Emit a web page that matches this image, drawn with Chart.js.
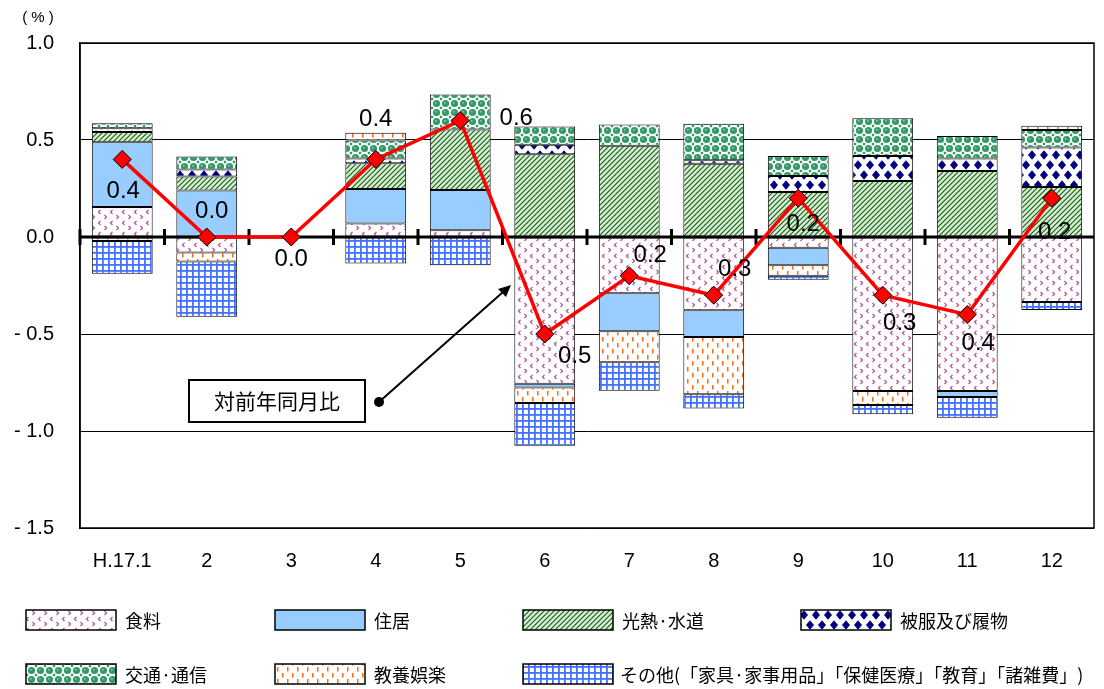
<!DOCTYPE html>
<html lang="ja">
<head>
<meta charset="utf-8">
<title>消費者物価指数 対前年同月比 寄与度</title>
<script src="https://cdn.jsdelivr.net/npm/chart.js@4.4.1/dist/chart.umd.min.js"></script>
<style>
  html, body { margin: 0; padding: 0; background: #fff; }
  #wrap { width: 1104px; height: 689px; }
</style>
</head>
<body>
<div id="wrap"><canvas id="cpiChart" width="1104" height="689"></canvas></div>
<script>
// months (H.17 = 2005)
const months = ['H.17.1', '2', '3', '4', '5', '6', '7', '8', '9', '10', '11', '12'];

// contribution of each group (% points)
const food      = [0.155, -0.08, null, 0.07, 0.035, -0.756, -0.29, -0.378, -0.055, -0.794, -0.794, -0.335];
const housing   = [0.333, 0.24, null, 0.178, 0.207, -0.02, -0.196, -0.137, -0.09, null, -0.031, null];
const utilities = [0.053, 0.072, null, 0.132, 0.312, 0.426, 0.47, 0.378, 0.232, 0.289, 0.34, 0.258];
const clothing  = [0.02, 0.036, null, 0.024, null, 0.05, null, 0.017, 0.082, 0.129, 0.065, 0.203];
const transport = [0.025, 0.067, null, 0.093, 0.18, 0.094, 0.11, 0.189, 0.103, 0.194, 0.115, 0.09];
const culture   = [-0.02, -0.046, null, 0.04, null, -0.08, -0.16, -0.295, -0.055, -0.072, null, 0.022];
const others    = [-0.17, -0.285, null, -0.137, -0.145, -0.22, -0.146, -0.074, -0.02, -0.048, -0.107, -0.041];

// year-on-year change of the index
const yoy       = [0.4, 0.0, 0.0, 0.4, 0.6, -0.5, -0.2, -0.3, 0.2, -0.3, -0.4, 0.2];
const yoyLabels = ['0.4', '0.0', '0.0', '0.4', '0.6', '0.5', '0.2', '0.3', '0.2', '0.3', '0.4', '0.2'];
// where each label sits relative to its marker
const yoyLabelOffsets = [[1, 32], [5, -26], [0, 22], [0, -40], [56, -2], [30, 22],
                         [21, -20], [21, -26], [5, 26], [17, 28], [11, 29], [3, 34]];

const seriesNames = ['食料', '住居', '光熱·水道', '被服及び履物', '交通·通信', '教養娯楽',
                     'その他(「家具·家事用品」「保健医療」「教育」「諸雑費」)'];

const FONT = "'Liberation Sans', Arial, sans-serif";
const JFONT = "'Noto Sans CJK JP', sans-serif";

// fill patterns like the old spreadsheet ones
function makePattern(kind) {
    const c = document.createElement('canvas');
    const g = c.getContext('2d');
    if (kind === 'food') {
        c.width = 12; c.height = 11;
        g.fillStyle = '#fff'; g.fillRect(0, 0, 12, 11);
        g.strokeStyle = '#b5508c'; g.lineWidth = 1.2;
        g.beginPath();
        g.moveTo(4.5, 1); g.lineTo(2.5, 3); g.lineTo(4.5, 5);
        g.moveTo(8.5, 6); g.lineTo(10.5, 8); g.lineTo(8.5, 10);
        g.stroke();
    } else if (kind === 'housing') {
        c.width = 4; c.height = 4;
        g.fillStyle = '#99ccff'; g.fillRect(0, 0, 4, 4);
    } else if (kind === 'utilities') {
        c.width = 5; c.height = 5;
        g.fillStyle = '#ccf5c8'; g.fillRect(0, 0, 5, 5);
        g.strokeStyle = '#2e4a2e'; g.lineWidth = 1.1;
        g.beginPath();
        g.moveTo(0, 5); g.lineTo(5, 0);
        g.moveTo(-1, 1); g.lineTo(1, -1);
        g.moveTo(4, 6); g.lineTo(6, 4);
        g.stroke();
    } else if (kind === 'clothing') {
        c.width = 12; c.height = 20;
        g.fillStyle = '#fff'; g.fillRect(0, 0, 12, 20);
        g.fillStyle = '#000080';
        const dia = (cx, cy) => {
            g.beginPath();
            g.moveTo(cx, cy - 4.8); g.lineTo(cx + 4, cy); g.lineTo(cx, cy + 4.8); g.lineTo(cx - 4, cy);
            g.closePath(); g.fill();
        };
        dia(6, 5); dia(0, 15); dia(12, 15);
    } else if (kind === 'transport') {
        c.width = 9; c.height = 9;
        g.fillStyle = '#fff'; g.fillRect(0, 0, 9, 9);
        g.fillStyle = '#339966';
        g.beginPath(); g.arc(4.5, 4.5, 3.6, 0, Math.PI * 2); g.fill();
        g.fillRect(0, 0, 1.2, 1.2); g.fillRect(7.8, 0, 1.2, 1.2);
        g.fillRect(0, 7.8, 1.2, 1.2); g.fillRect(7.8, 7.8, 1.2, 1.2);
        g.fillStyle = '#8fd3ad';
        g.fillRect(3, 3, 1.5, 1.5);
    } else if (kind === 'culture') {
        c.width = 10; c.height = 12;
        g.fillStyle = '#fff'; g.fillRect(0, 0, 10, 12);
        g.fillStyle = '#ff6a10';
        g.fillRect(2, 1, 1.5, 4.5); g.fillRect(7, 7, 1.5, 4.5);
    } else {
        c.width = 6; c.height = 6;
        g.fillStyle = '#fff'; g.fillRect(0, 0, 6, 6);
        g.fillStyle = '#4472ff';
        g.fillRect(0, 0, 6, 1.8); g.fillRect(0, 0, 1.8, 6);
    }
    return g.createPattern(c, 'repeat');
}

const fills = ['food', 'housing', 'utilities', 'clothing', 'transport', 'culture', 'others'].map(makePattern);
const seriesData = [food, housing, utilities, clothing, transport, culture, others];

const barSets = seriesData.map((vals, i) => ({
    type: 'bar',
    label: seriesNames[i],
    data: vals,
    backgroundColor: fills[i],
    borderColor: '#000',
    borderWidth: 1,
    borderSkipped: false,
    barPercentage: 0.72,
    categoryPercentage: 1.0,
    order: 1
}));

const lineSet = {
    type: 'line',
    label: '対前年同月比',
    data: yoy,
    borderColor: '#ff0000',
    borderWidth: 3.5,
    tension: 0,
    pointStyle: 'rectRot',
    pointRadius: 9,
    pointBackgroundColor: '#ff0000',
    pointBorderColor: '#000',
    pointBorderWidth: 1,
    order: 0
};

// frame, zero axis, labels, note and legend
const decorations = {
    id: 'decorations',
    beforeDatasetDraw(chart, args) {
        if (args.meta.type !== 'line') return;
        const { ctx, chartArea, scales } = chart;
        const y0 = scales.y.getPixelForValue(0);
        const step = (chartArea.right - chartArea.left) / months.length;
        ctx.save();
        ctx.strokeStyle = '#000';
        ctx.lineWidth = 3;
        ctx.beginPath();
        ctx.moveTo(chartArea.left, y0);
        ctx.lineTo(chartArea.right, y0);
        for (let i = 0; i < months.length; i++) {
            const x = chartArea.left + i * step;
            ctx.moveTo(x, y0 - 8);
            ctx.lineTo(x, y0 + 8);
        }
        ctx.stroke();
        ctx.restore();
    },
    afterDatasetsDraw(chart) {
        const { ctx } = chart;
        const meta = chart.getDatasetMeta(seriesData.length);
        ctx.save();
        ctx.fillStyle = '#000';
        ctx.font = '24px ' + FONT;
        ctx.textAlign = 'center';
        ctx.textBaseline = 'middle';
        meta.data.forEach((pt, i) => {
            const [dx, dy] = yoyLabelOffsets[i];
            ctx.fillText(yoyLabels[i], pt.x + dx, pt.y + dy);
        });
        ctx.restore();
    },
    afterDraw(chart) {
        const { ctx, chartArea } = chart;
        ctx.save();
        // plot frame
        ctx.strokeStyle = '#000';
        ctx.lineWidth = 1.5;
        ctx.strokeRect(chartArea.left, chartArea.top, chartArea.right - chartArea.left, chartArea.bottom - chartArea.top);

        // unit
        ctx.fillStyle = '#000';
        ctx.font = '15px ' + FONT;
        ctx.textAlign = 'center';
        ctx.textBaseline = 'middle';
        ctx.fillText('( % )', 38, 18);

        // note box with arrow
        ctx.lineWidth = 2;
        ctx.fillStyle = '#fff';
        ctx.fillRect(189, 380, 176, 42);
        ctx.strokeRect(189, 380, 176, 42);
        ctx.fillStyle = '#000';
        ctx.font = '21px ' + JFONT;
        ctx.fillText('対前年同月比', 277, 401);
        ctx.lineWidth = 2;
        ctx.beginPath();
        ctx.moveTo(379, 402);
        ctx.lineTo(503, 292);
        ctx.stroke();
        ctx.beginPath();
        ctx.moveTo(511, 285);
        ctx.lineTo(498, 289);
        ctx.lineTo(506, 297);
        ctx.closePath();
        ctx.fill();
        ctx.beginPath();
        ctx.arc(379, 402, 5, 0, Math.PI * 2);
        ctx.fill();

        // legend
        const colX = [26, 275, 523, 801];
        const rowY = [610, 664];
        ctx.font = '18px ' + JFONT;
        ctx.textAlign = 'left';
        seriesNames.forEach((name, i) => {
            const x = colX[i % 4];
            const y = rowY[Math.floor(i / 4)];
            ctx.fillStyle = fills[i];
            ctx.fillRect(x, y, 90, 20);
            ctx.strokeStyle = '#000';
            ctx.lineWidth = 1.5;
            ctx.strokeRect(x, y, 90, 20);
            ctx.fillStyle = '#000';
            if (i === 6) ctx.fillText(name, x + 97, y + 11, 478);
            else ctx.fillText(name, x + 99, y + 11);
        });
        ctx.restore();
    }
};

new Chart(document.getElementById('cpiChart'), {
    data: {
        labels: months,
        datasets: [...barSets, lineSet]
    },
    options: {
        responsive: false,
        animation: false,
        layout: { padding: { top: 43, right: 10, left: 0, bottom: 0 } },
        plugins: {
            legend: { display: false },
            tooltip: { enabled: false }
        },
        scales: {
            x: {
                stacked: true,
                grid: { display: false, drawTicks: false },
                border: { display: false },
                ticks: { color: '#000', font: { family: FONT, size: 20 }, padding: 21, maxRotation: 0 },
                afterFit(scale) { scale.height = 161; }
            },
            y: {
                stacked: true,
                min: -1.5,
                max: 1.0,
                grid: { color: '#000', lineWidth: 1, drawTicks: false },
                border: { display: true, color: '#000', width: 1.5 },
                ticks: {
                    stepSize: 0.5,
                    color: '#000',
                    padding: 26,
                    font: { family: FONT, size: 20 },
                    callback: v => v < 0 ? '- ' + Math.abs(v).toFixed(1) : v.toFixed(1)
                },
                afterFit(scale) { scale.width = 80; }
            }
        }
    },
    plugins: [decorations]
});
</script>
</body>
</html>
